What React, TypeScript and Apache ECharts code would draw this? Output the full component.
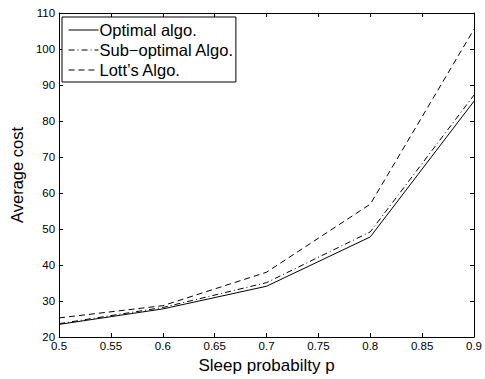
import React, { useEffect, useRef } from "react";
import * as echarts from "echarts";

const xValues = [0.5, 0.6, 0.7, 0.8, 0.9];
const optimal = [23.5, 27.8, 34.1, 47.8, 85.5];
const subOptimal = [23.7, 28.2, 35.1, 49.2, 87.2];
const lotts = [25.3, 28.7, 38.0, 56.9, 105.5];
const seriesNames = ["Optimal algo.", "Sub\u2212optimal Algo.", "Lott\u2019s Algo."];

const FONT = "'Liberation Sans', Arial, Helvetica, sans-serif";

export default function App() {
  const ref = useRef<HTMLDivElement>(null);
  useEffect(() => {
    if (!ref.current) return;
    const chart = echarts.init(ref.current, null, { renderer: "svg" });
    const pairs = (ys: number[]) => xValues.map((x, i) => [x, ys[i]]);
    const fmtX = (v: number) => String(+v.toFixed(2));
    const axisCommon = {
      axisLine: { show: true, onZero: false, lineStyle: { color: "#000", width: 1 } },
      axisTick: { show: true, inside: true, length: 4, lineStyle: { color: "#000" } },
      splitLine: { show: false },
    };
    chart.setOption({
      animation: false,
      backgroundColor: "#fff",
      textStyle: { fontFamily: FONT },
      grid: { left: 58, right: 10, top: 13, bottom: 36, containLabel: false },
      legend: {
        orient: "vertical",
        left: 62,
        top: 17,
        padding: [3, 2, 2, 6],
        itemGap: 0,
        itemWidth: 30,
        itemHeight: 14,
        backgroundColor: "#fff",
        borderColor: "#000",
        borderWidth: 1,
        borderRadius: 0,
        itemStyle: { opacity: 0, borderWidth: 0 },
        lineStyle: { width: 1 },
        textStyle: { fontFamily: FONT, fontSize: 16.5, lineHeight: 20, color: "#000", padding: [0, 0, 0, -4] },
        data: seriesNames,
      },
      xAxis: [
        {
          type: "value",
          min: 0.5,
          max: 0.9,
          interval: 0.05,
          position: "bottom",
          ...axisCommon,
          axisLabel: { color: "#000", fontSize: 11.5, fontFamily: FONT, margin: 3, formatter: fmtX },
          name: "Sleep probabilty p",
          nameLocation: "middle",
          nameGap: 20,
          nameTextStyle: { color: "#000", fontSize: 17, fontFamily: FONT },
        },
        {
          type: "value",
          min: 0.5,
          max: 0.9,
          interval: 0.05,
          position: "top",
          ...axisCommon,
          axisLabel: { show: false },
        },
      ],
      yAxis: [
        {
          type: "value",
          min: 20,
          max: 110,
          interval: 10,
          position: "left",
          ...axisCommon,
          axisLabel: { color: "#000", fontSize: 11.5, fontFamily: FONT, margin: 4 },
          name: "Average cost",
          nameLocation: "middle",
          nameGap: 31,
          nameTextStyle: { color: "#000", fontSize: 16.5, fontFamily: FONT },
        },
        {
          type: "value",
          min: 20,
          max: 110,
          interval: 10,
          position: "right",
          ...axisCommon,
          axisLabel: { show: false },
        },
      ],
      series: [
        {
          name: seriesNames[0],
          type: "line",
          data: pairs(optimal),
          symbol: "none",
          lineStyle: { color: "#000", width: 1, type: "solid" },
          itemStyle: { color: "#000" },
        },
        {
          name: seriesNames[1],
          type: "line",
          data: pairs(subOptimal),
          symbol: "none",
          lineStyle: { color: "#000", width: 1, type: [6, 3, 1, 3] },
          itemStyle: { color: "#000" },
        },
        {
          name: seriesNames[2],
          type: "line",
          data: pairs(lotts),
          symbol: "none",
          lineStyle: { color: "#000", width: 1, type: [6, 4] },
          itemStyle: { color: "#000" },
        },
      ],
    });
    return () => chart.dispose();
  }, []);
  return <div ref={ref} style={{ width: 485, height: 379, position: "absolute", left: 0, top: 0 }} />;
}
